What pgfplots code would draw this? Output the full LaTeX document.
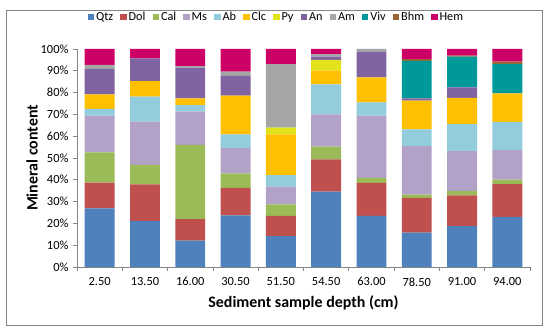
\documentclass[border=0pt]{standalone}
\usepackage{fontspec}
\setmainfont{Carlito}
\usepackage{pgfplots}
\pgfplotsset{compat=1.18}
\usepackage{pgfplotstable}
\definecolor{cQtz}{HTML}{4F81BD}
\definecolor{cDol}{HTML}{C0504D}
\definecolor{cCal}{HTML}{9BBB59}
\definecolor{cMs}{HTML}{B3A2C7}
\definecolor{cAb}{HTML}{93CDDD}
\definecolor{cClc}{HTML}{FFC000}
\definecolor{cPy}{HTML}{E3E31B}
\definecolor{cAn}{HTML}{8064A2}
\definecolor{cAm}{HTML}{A5A5A5}
\definecolor{cViv}{HTML}{009999}
\definecolor{cBhm}{HTML}{996633}
\definecolor{cHem}{HTML}{CC0066}
\definecolor{axgray}{HTML}{868686}
\pgfplotsset{sq/.style={legend image code/.code={\fill[##1] (0bp,-3.2bp) rectangle (6.5bp,3.2bp);}}}
\pgfplotstableread{
x Qtz Dol Cal Ms Ab Clc Py An Am Viv Bhm Hem
0 26.9 11.8 13.9 16.8 3.1 6.7 0 11.6 1.9 0 0 7.3
1 21.0 16.9 8.9 19.9 11.4 7.2 0 10.4 0 0 0 4.3
2 12.1 9.9 34.0 15.3 3.0 3.1 0 14.0 0.8 0 0 7.8
3 23.7 12.6 6.6 11.8 6.1 17.8 0 9.1 1.9 0 0 10.4
4 14.2 9.3 5.2 8.2 5.3 18.6 3.1 0 29.2 0 0 6.9
5 34.6 14.8 5.8 14.8 13.8 6.3 4.9 1.5 1.1 0 0 2.4
6 23.4 15.2 2.3 28.5 6.1 11.5 0 11.8 1.2 0 0 0
7 15.8 15.9 1.5 22.2 7.7 13.2 0 1.0 0 17.3 0.8 4.6
8 18.8 14.1 2.0 18.2 12.4 12.1 0 4.8 0 14.1 0.5 3.0
9 23.0 15.0 2.1 13.5 13.0 13.0 0 0 0 13.5 1.1 5.8
}\datatable
\begin{document}
\begin{tikzpicture}[x=1bp,y=1bp]
\path[fill=white] (0,0) rectangle (550,333);
\draw[color=axgray, line width=0.75bp] (6,8) rectangle (542,323);
\begin{axis}[
  at={(77bp,66bp)}, anchor=south west,
  scale only axis, width=453bp, height=218bp,
  ybar stacked, bar width=0.66,
  xmin=-0.5, xmax=9.5, ymin=0, ymax=100,
  xtick={-0.5,0.5,...,9.5}, x tick label as interval,
  xticklabels={2.50,13.50,16.00,30.50,51.50,54.50,63.00,78.50,91.00,94.00},
  ytick={0,10,...,100},
  yticklabels={0\%,10\%,20\%,30\%,40\%,50\%,60\%,70\%,80\%,90\%,100\%},
  axis x line*=bottom, axis y line*=left,
  axis line style={draw=axgray, line width=0.75bp, -},
  tick style={draw=axgray, line width=0.75bp},
  major tick length=4bp, tick align=outside,
  ticklabel style={font=\fontsize{12.5}{14}\selectfont, text=black},
  yticklabel style={xshift=-1bp},
  xticklabel style={yshift=-3bp},
  /pgf/number format/assume math mode=true,
  xlabel={Sediment sample depth (cm)}, ylabel={Mineral content},
  label style={font=\bfseries\fontsize{16}{18}\selectfont},
  xlabel style={at={(axis description cs:0.5,-0.165)}, anchor=center},
  ylabel style={at={(axis description cs:-0.0993,0.5)}, anchor=center},
  legend columns=12,
  legend style={draw=none, fill=none, at={(axis description cs:0.44,1.147)}, anchor=center,
    font=\fontsize{12.3}{14}\selectfont, /tikz/every even column/.style={column sep=5bp},
    nodes={inner xsep=2bp}},
]
\addplot[fill=cQtz, draw=none, sq] table[x=x, y=Qtz] {\datatable};
\addplot[fill=cDol, draw=none, sq] table[x=x, y=Dol] {\datatable};
\addplot[fill=cCal, draw=none, sq] table[x=x, y=Cal] {\datatable};
\addplot[fill=cMs, draw=none, sq] table[x=x, y=Ms] {\datatable};
\addplot[fill=cAb, draw=none, sq] table[x=x, y=Ab] {\datatable};
\addplot[fill=cClc, draw=none, sq] table[x=x, y=Clc] {\datatable};
\addplot[fill=cPy, draw=none, sq] table[x=x, y=Py] {\datatable};
\addplot[fill=cAn, draw=none, sq] table[x=x, y=An] {\datatable};
\addplot[fill=cAm, draw=none, sq] table[x=x, y=Am] {\datatable};
\addplot[fill=cViv, draw=none, sq] table[x=x, y=Viv] {\datatable};
\addplot[fill=cBhm, draw=none, sq] table[x=x, y=Bhm] {\datatable};
\addplot[fill=cHem, draw=none, sq] table[x=x, y=Hem] {\datatable};
\legend{Qtz,Dol,Cal,Ms,Ab,Clc,Py,An,Am,Viv,Bhm,Hem}
\end{axis}
\end{tikzpicture}
\end{document}
